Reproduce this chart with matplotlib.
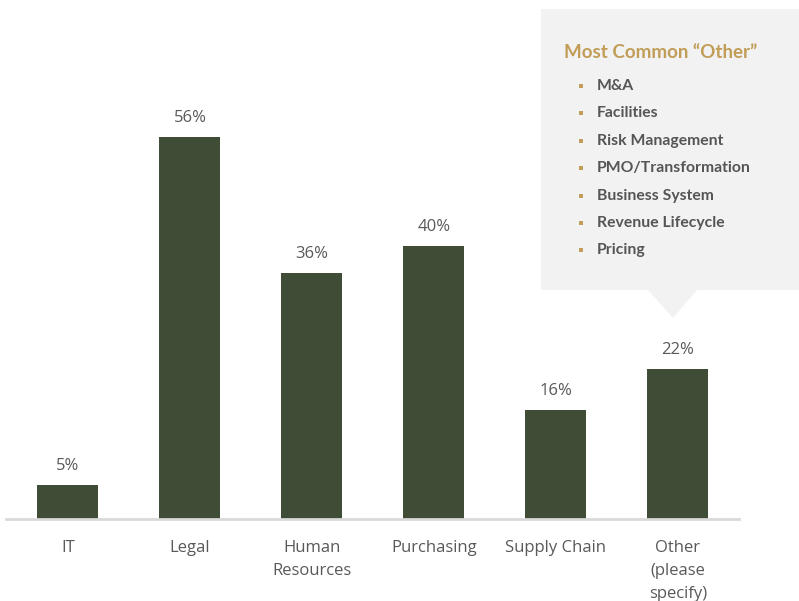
import matplotlib.pyplot as plt
from matplotlib.patches import Polygon, Rectangle

categories = ["IT", "Legal", "Human\nResources", "Purchasing", "Supply Chain", "Other\n(please\nspecify)"]
values = [5, 56, 36, 40, 16, 22]
other_items = ["M&A", "Facilities", "Risk Management", "PMO/Transformation",
               "Business System", "Revenue Lifecycle", "Pricing"]

bar_color = "#404d36"
text_color = "#595959"
gold = "#c19d57"

plt.rcParams['font.family'] = ['Open Sans', 'DejaVu Sans']

fig = plt.figure(figsize=(7.99, 6.01), dpi=100)
W, H = 799, 601
ax = fig.add_axes([6 / W, 1 - 519 / H, (739 - 6) / W, 519 / H])

x = list(range(len(categories)))
ax.bar(x, values, width=0.5, color=bar_color, zorder=2)
for xi, v in zip(x, values):
    ax.annotate(f"{v}%", (xi, v), xytext=(0, 8), textcoords="offset points",
                ha="center", va="bottom", fontsize=12, color=text_color)

ax.set_xlim(-0.508, 5.5)
ax.set_ylim(0, 76.1)
ax.set_xticks(x)
ax.set_xticklabels(categories, fontsize=12, color=text_color, linespacing=1.58)
ax.tick_params(axis="x", length=0, pad=15)
ax.set_yticks([])
for s in ["top", "right", "left"]:
    ax.spines[s].set_visible(False)
ax.spines["bottom"].set_color("#d9d9d9")
ax.spines["bottom"].set_linewidth(2)
ax.patch.set_alpha(0)

# callout box with the "Other" breakdown
box = fig.add_axes([0, 0, 1, 1], zorder=5)
box.set_xlim(0, W)
box.set_ylim(H, 0)
box.axis("off")
box.add_patch(Rectangle((541, 9), 258, 281, color="#f2f2f3", lw=0))
box.add_patch(Polygon([(648, 290), (697, 290), (673, 318)], closed=True, color="#f2f2f3", lw=0))
box.text(564, 52, "Most Common \u201cOther\u201d", fontsize=13.5, fontweight="bold",
         color=gold, va="center", ha="left", family=["Lato", "DejaVu Sans"])
y0 = 86
for i, item in enumerate(other_items):
    yy = y0 + i * 27.4
    box.add_patch(Rectangle((579, yy - 2), 4, 4, color=gold, lw=0))
    box.text(597, yy, item, fontsize=11.3, fontweight="bold", color="#555555",
             va="center", ha="left", family=["Lato", "DejaVu Sans"])

fig.savefig("out.png", dpi=100)
